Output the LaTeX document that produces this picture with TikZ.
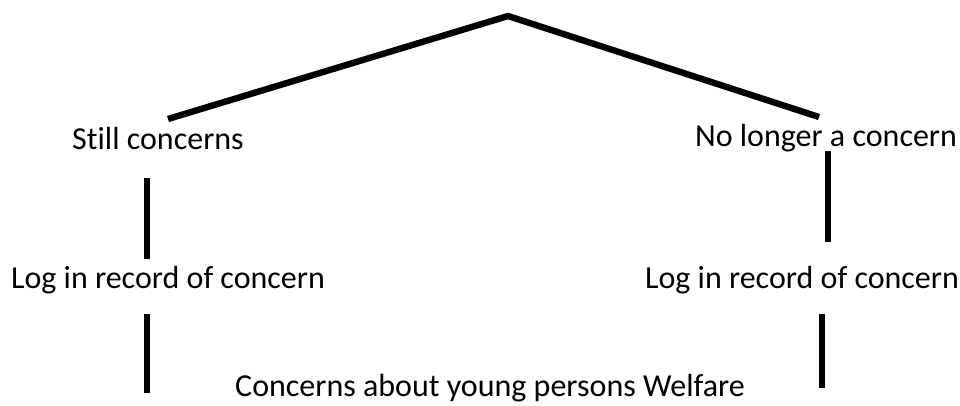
\documentclass[tikz,border=0pt]{standalone}
\usepackage{fontspec}
\setmainfont[Ligatures=NoCommon]{Carlito}
\begin{document}
\begin{tikzpicture}[x=0.75pt,y=-0.75pt,font=\fontsize{24}{28}\selectfont]
			\tikzset{branch/.style={line width=4.8pt},
				label/.style={anchor=base,inner sep=0pt}}
			\useasboundingbox (0,0) rectangle (960,405);
			% text of the tree
			\node[label] (still) at (158,149){Still concerns};
			\node[label] (nolonger) at (826,146){No longer a concern};
			\node[label] (logleft) at (168,288){Log in record of concern};
			\node[label] (logright) at (802,288){Log in record of concern};
			\node[label] (welfare) at (490,396){Concerns about young persons Welfare};
			% ends of the lines
			\coordinate (apex) at (508,16);
			\coordinate (lbranch) at (168,119);
			\coordinate (rbranch) at (819,117);
			\coordinate (la) at (147,178);
			\coordinate (lb) at (147,259);
			\coordinate (lc) at (147,314);
			\coordinate (ld) at (147,393);
			\coordinate (ra) at (828,151);
			\coordinate (rb) at (828,242);
			\coordinate (rc) at (822,314);
			\coordinate (rd) at (822,388);
			\draw[branch] (lbranch) -- (apex) -- (rbranch);
			\draw[branch] (la) -- (lb) (lc) -- (ld);
			\draw[branch] (ra) -- (rb) (rc) -- (rd);
	\end{tikzpicture}
\end{document}
